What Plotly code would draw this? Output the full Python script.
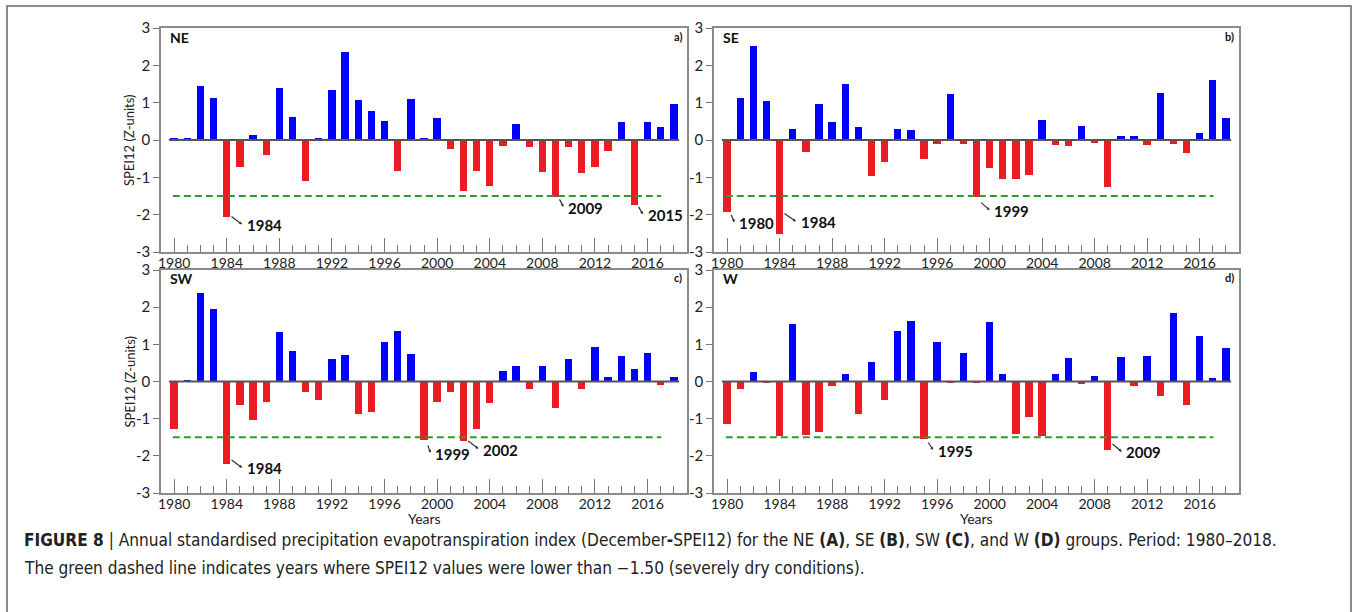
import plotly.graph_objects as go

years = list(range(1980, 2019))

ne_values = [0.04, 0.06, 1.45, 1.12, -2.06, -0.72, 0.13, -0.40, 1.39, 0.62,
             -1.09, 0.03, 1.33, 2.36, 1.07, 0.79, 0.51, -0.83, 1.11, 0.04,
             0.59, -0.23, -1.36, -0.83, -1.23, -0.15, 0.44, -0.19, -0.87, -1.54,
             -0.19, -0.88, -0.72, -0.29, 0.48, -1.74, 0.47, 0.34, 0.96]
se_values = [-1.93, 1.12, 2.52, 1.04, -2.51, 0.29, -0.32, 0.97, 0.47, 1.50,
             0.36, -0.97, -0.60, 0.29, 0.26, -0.52, -0.10, 1.24, -0.10, -1.54,
             -0.75, -1.05, -1.04, -0.95, 0.53, -0.14, -0.16, 0.37, -0.07, -1.27,
             0.11, 0.11, -0.14, 1.26, -0.10, -0.36, 0.19, 1.61, 0.58]
sw_values = [-1.28, 0.04, 2.38, 1.94, -2.21, -0.64, -1.04, -0.56, 1.33, 0.82,
             -0.29, -0.50, 0.60, 0.70, -0.87, -0.82, 1.07, 1.36, 0.73, -1.58,
             -0.56, -0.27, -1.60, -1.29, -0.58, 0.29, 0.42, -0.21, 0.41, -0.71,
             0.61, -0.21, 0.92, 0.12, 0.69, 0.33, 0.76, -0.09, 0.13]
w_values = [-1.13, -0.21, 0.25, -0.05, -1.46, 1.55, -1.43, -1.35, -0.11, 0.21,
            -0.88, 0.52, -0.49, 1.35, 1.63, -1.54, 1.07, -0.05, 0.78, -0.05,
            1.59, 0.21, -1.42, -0.96, -1.46, 0.21, 0.62, -0.06, 0.16, -1.83,
            0.65, -0.13, 0.68, -0.38, 1.83, -0.62, 1.22, 0.10, 0.91]

group_names = ["NE", "SE", "SW", "W"]
panel_letters = ["a)", "b)", "c)", "d)"]
highlight_years = {"NE": [1984, 2009, 2015], "SE": [1980, 1984, 1999],
                   "SW": [1984, 1999, 2002], "W": [1995, 2009]}
tick_years = list(range(1980, 2017, 4))
y_ticks = [-3, -2, -1, 0, 1, 2, 3]
threshold = -1.5
caption_line1 = ("<b>FIGURE 8</b> | Annual standardised precipitation evapotranspiration index "
                 "(December<b>-</b>SPEI12) for the NE <b>(A)</b>, SE <b>(B)</b>, SW <b>(C)</b>, "
                 "and W <b>(D)</b> groups. Period: 1980–2018.")
caption_line2 = ("The green dashed line indicates years where SPEI12 values were lower than "
                 "−1.50 (severely dry conditions).")

# label layout: (text x offset in years, text y position)
label_layout = {
    ("NE", 1984): (1.37, -2.28), ("NE", 2009): (0.8, -1.81), ("NE", 2015): (0.85, -2.01),
    ("SE", 1980): (0.76, -2.22), ("SE", 1984): (1.44, -2.20), ("SE", 1999): (1.2, -1.90),
    ("SW", 1984): (1.37, -2.34), ("SW", 1999): (0.7, -1.94), ("SW", 2002): (1.34, -1.83),
    ("W", 1995): (0.89, -1.86), ("W", 2009): (1.27, -1.91),
}

W_PX, H_PX = 1356, 612
BLUE = "#0000FF"
RED = "#EC1C24"
GREEN = "#2F9A2F"
FONT = "Lato, 'Open Sans', sans-serif"
CAPTION_FONT = "'Liberation Sans Narrow', 'DejaVu Sans Condensed', Roboto, sans-serif"

values_by_group = {"NE": ne_values, "SE": se_values, "SW": sw_values, "W": w_values}
# plot areas in pixels: (left, right, top, bottom)
areas = {"NE": (161, 687, 28, 252), "SE": (714, 1239, 28, 252),
         "SW": (161, 687, 270, 493), "W": (714, 1239, 270, 493)}

fig = go.Figure()
layout_axes = {}
annotations = []

for i, g in enumerate(group_names):
    idx = "" if i == 0 else str(i + 1)
    xa, ya = "x" + idx, "y" + idx
    vals = values_by_group[g]
    colors = [BLUE if v >= 0 else RED for v in vals]
    fig.add_trace(go.Bar(x=years, y=vals, marker=dict(color=colors, line=dict(width=0)),
                         width=0.56, xaxis=xa, yaxis=ya, showlegend=False))
    # zero baseline
    fig.add_trace(go.Scatter(x=[years[0] - 0.4, years[-1] + 0.4], y=[0, 0], mode="lines",
                             line=dict(color="#555555", width=2), xaxis=xa, yaxis=ya,
                             showlegend=False, hoverinfo="skip"))
    # threshold dashed line
    fig.add_trace(go.Scatter(x=[years[0] - 0.1, years[-2] + 0.05], y=[threshold, threshold],
                             mode="lines", line=dict(color=GREEN, width=2, dash="7px,4px"),
                             xaxis=xa, yaxis=ya, showlegend=False, hoverinfo="skip"))

    l, r, t, b = areas[g]
    bottom_row = g in ("SW", "W")
    left_col = g in ("NE", "SW")
    layout_axes["xaxis" + idx] = dict(
        domain=[l / W_PX, r / W_PX], anchor=ya, range=[1979, 2019],
        tickvals=tick_years, ticks="inside", ticklen=14, tickwidth=1, tickcolor="#777777",
        minor=dict(dtick=1, tick0=1980, ticks="inside", ticklen=7, tickwidth=1, tickcolor="#777777"),
        showline=True, linecolor="#8a8a8a", linewidth=1.5, mirror=True, ticklabelstandoff=-3,
        showgrid=False, zeroline=False, tickfont=dict(family=FONT, size=14, color="#222222"),
        automargin=False, fixedrange=True)
    layout_axes["yaxis" + idx] = dict(
        domain=[1 - b / H_PX, 1 - t / H_PX], anchor=xa, range=[-3, 3],
        tickvals=y_ticks, ticktext=[str(v) for v in y_ticks], ticks="outside", ticklen=6,
        tickcolor="#777777", showline=True, linecolor="#8a8a8a", linewidth=1.5, mirror=True,
        showgrid=False, zeroline=False, tickfont=dict(family=FONT, size=15, color="#222222"),
        automargin=False, fixedrange=True)

    # group name and panel letter
    annotations.append(dict(text="<b>" + g + "</b>", x=(l + 7) / W_PX, y=1 - (t + 9) / H_PX,
                            xref="paper", yref="paper", xanchor="left", yanchor="middle",
                            showarrow=False, font=dict(family=FONT, size=14, color="#111111")))
    annotations.append(dict(text="<b>" + panel_letters[i] + "</b>", x=(r - 3) / W_PX,
                            y=1 - (t + 8) / H_PX, xref="paper", yref="paper",
                            xanchor="right", yanchor="middle", showarrow=False,
                            font=dict(family=FONT, size=11, color="#111111")))
    if left_col:
        annotations.append(dict(text="SPEI12 (Z-units)", x=129 / W_PX,
                                y=1 - ((t + b) / 2) / H_PX, xref="paper", yref="paper",
                                textangle=-90, showarrow=False, xanchor="center", yanchor="middle",
                                font=dict(family=FONT, size=13, color="#222222")))
    if bottom_row:
        annotations.append(dict(text="Years", x=((l + r) / 2) / W_PX, y=1 - 518 / H_PX,
                                xref="paper", yref="paper", showarrow=False,
                                xanchor="center", yanchor="middle",
                                font=dict(family=FONT, size=14, color="#222222")))

    # highlighted dry years
    for yr in highlight_years[g]:
        dx, ty = label_layout[(g, yr)]
        annotations.append(dict(text="<b>" + str(yr) + "</b>", x=yr + dx, y=ty, xref=xa, yref=ya,
                                xanchor="left", yanchor="middle", showarrow=False,
                                font=dict(family=FONT, size=15, color="#111111")))
        annotations.append(dict(text="", x=yr + dx - 0.2, y=ty + 0.02, ax=yr + 0.25, ay=ty + 0.26,
                                xref=xa, yref=ya, axref=xa, ayref=ya, showarrow=True,
                                arrowhead=2, arrowsize=0.5, arrowwidth=1.2, arrowcolor="#333333"))

annotations.append(dict(text=caption_line1, x=22 / W_PX, y=1 - 540 / H_PX, xref="paper",
                        yref="paper", xanchor="left", yanchor="middle", showarrow=False,
                        font=dict(family=CAPTION_FONT, size=17.1, color="#222222")))
annotations.append(dict(text=caption_line2, x=22 / W_PX, y=1 - 568 / H_PX, xref="paper",
                        yref="paper", xanchor="left", yanchor="middle", showarrow=False,
                        font=dict(family=CAPTION_FONT, size=17.1, color="#222222")))

fig.update_layout(
    width=W_PX, height=H_PX, margin=dict(l=0, r=0, t=0, b=0),
    paper_bgcolor="white", plot_bgcolor="white", bargap=0, showlegend=False,
    annotations=annotations,
    shapes=[dict(type="rect", xref="paper", yref="paper", x0=7 / W_PX, x1=1351 / W_PX,
                 y0=-0.05, y1=1 - 6 / H_PX, line=dict(color="#666666", width=1.5))],
    **layout_axes)

fig.write_html("out.html", config={"displayModeBar": False})
